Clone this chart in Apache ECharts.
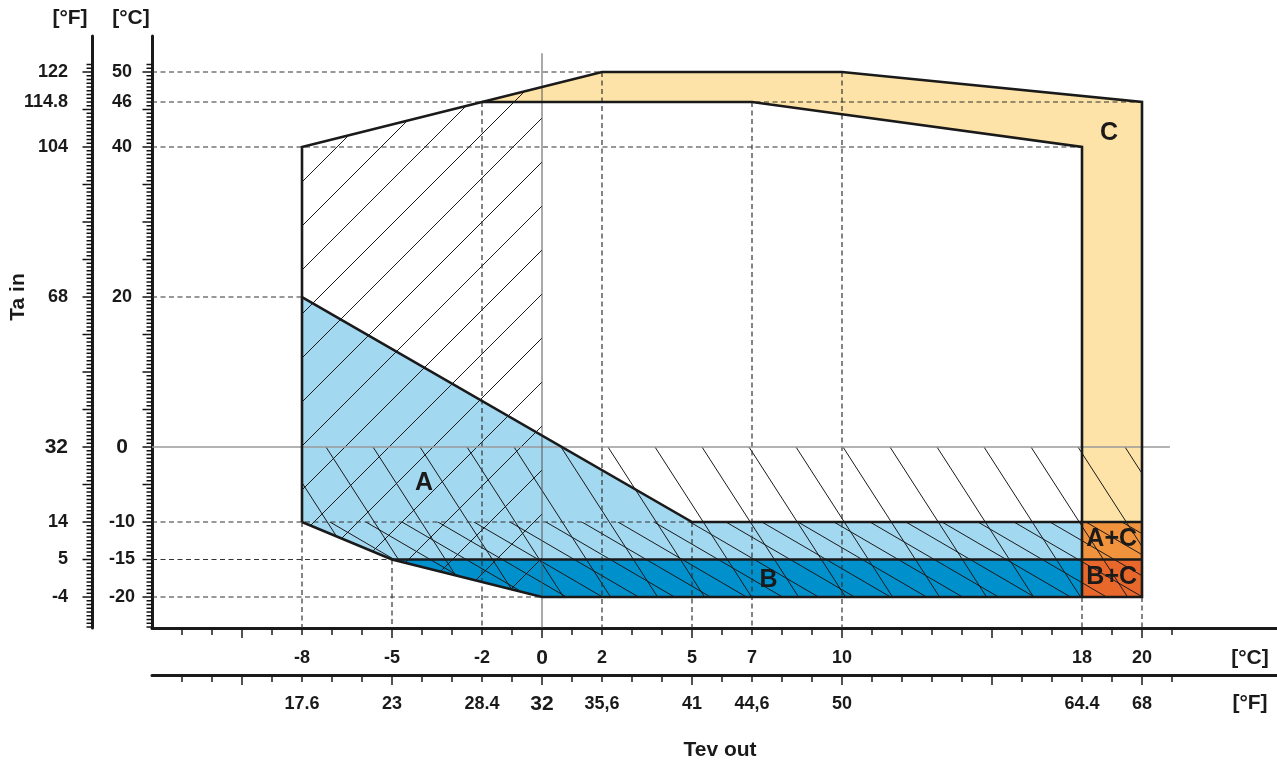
<!DOCTYPE html>
<html><head><meta charset="utf-8">
<script src="https://cdn.jsdelivr.net/npm/echarts@6/dist/echarts.min.js"></script>
<style>html,body{margin:0;padding:0;background:#fff}#c{width:1277px;height:765px}</style>
</head><body><div id="c"></div>
<script>
// ---------- data (°C) ----------
const X_MIN = -13, X_MAX = 24.5, Y_MIN = -24.13, Y_MAX = 54.8;
const envelope = [[-8,-10],[-8,40],[-2,46],[2,50],[10,50],[20,46],[20,-20],[0,-20],[-5,-15],[-8,-10]];
const innerC = [[-2,46],[7,46],[18,40],[18,-20]];
const boundaryA = [[-8,20],[5,-10],[20,-10]];
const boundaryB = [[-5,-15],[20,-15]];
const zoneA = [[-8,20],[5,-10],[18,-10],[18,-15],[-5,-15],[-8,-10]];
const zoneB = [[-5,-15],[18,-15],[18,-20],[0,-20]];
const zoneC = [[-2,46],[2,50],[10,50],[20,46],[20,-10],[18,-10],[18,40],[7,46]];
const zoneAC = [[18,-10],[20,-10],[20,-15],[18,-15]];
const zoneBC = [[18,-15],[20,-15],[20,-20],[18,-20]];
const hatchSlash = [[-8,-10],[-8,40],[-2,46],[0,48],[0,-20],[-5,-15]];
const hatchSteep = [[-8,0],[20,0],[20,-20],[0,-20],[-5,-15],[-8,-10]];
const hatchShallow = [[-8,-10],[20,-10],[20,-20],[0,-20],[-5,-15]];
// horizontal reference lines: [y, xFrom, xTo]
const refH = [[50,X_MIN,2],[46,X_MIN,20],[40,X_MIN,18],[20,X_MIN,-8],[-10,X_MIN,5],[-15,X_MIN,-5],[-20,X_MIN,0]];
// vertical reference lines: [x, yFrom] down to axis
const refV = [[-8,-10],[-5,-15],[-2,46],[2,50],[5,-10],[7,46],[10,50],[18,-20],[20,-20]];
const zeroH = [[X_MIN,0],[20.93,0]];
const zeroV = [[0,52.5],[0,Y_MIN]];
const xLabelsC = [-8,-5,-2,0,2,5,7,10,18,20];
const xLabelsF = ['17.6','23','28.4','32','35,6','41','44,6','50','64.4','68'];
const yLabelsC = [50,46,40,20,0,-10,-15,-20];
const yLabelsF = ['122','114.8','104','68','32','14','5','-4'];
const regionNames = ['A','B','C','A+C','B+C'];
const regionPos = [[-3.93,-4.8],[7.55,-17.8],[18.9,41.9],[18.99,-12.3],[18.99,-17.4]];

const xMinor = []; for (let v = -12; v <= 21; v++) xMinor.push(v);
const xMajor = [-10,-5,0,5,10,15,20];
const yTicks = []; for (let v = -24; v <= 51; v += 0.5) yTicks.push(v);

const INK = '#1a1a1a';
const FONT = 'Liberation Sans, Arial, sans-serif';

// ---------- hatch patterns ----------
function makePattern(w, h, segs) {
  const c = document.createElement('canvas'); c.width = w; c.height = h;
  const g = c.getContext('2d'); g.strokeStyle = INK; g.lineWidth = 1;
  segs.forEach(s => { g.beginPath(); g.moveTo(s[0], s[1]); g.lineTo(s[2], s[3]); g.stroke(); });
  return { image: c, repeat: 'repeat' };
}
const slashSegs = [0,44,88].map(c => [c + 3, -3, -3, c + 3]);
const steepSegs = [-2,-1,0,1].map(j => { const p = 38.2 + 47 * j; return [p - 5*47/73, -5, p + 78*47/73, 78]; });
const shallowSegs = [-2,-1,0,1].map(j => { const q = 11.1 + 36 * j; return [q - 5*36/21, -5, q + 26*36/21, 26]; });
const patSlash = makePattern(44, 44, slashSegs);
const patSteep = makePattern(47, 73, steepSegs);
const patShallow = makePattern(36, 21, shallowSegs);

// ---------- series builders ----------
function shapeSeries(items, z) {
  return {
    type: 'custom', z, silent: true, clip: false,
    data: items.map((it, i) => [it.pts[0][0], it.pts[0][1], i]),
    renderItem(params, api) {
      const it = items[params.dataIndex];
      const pts = it.pts.map(p => api.coord(p));
      return { type: it.type || 'polygon', shape: { points: pts }, style: it.style };
    }
  };
}
const fills = shapeSeries([
  { pts: zoneC, style: { fill: '#fde3a7' } },
  { pts: zoneA, style: { fill: '#a3d8f1' } },
  { pts: zoneB, style: { fill: '#0090cc' } },
  { pts: zoneAC, style: { fill: '#f0933c' } },
  { pts: zoneBC, style: { fill: '#e8682b' } }
], 1);
const hatches = shapeSeries([
  { pts: hatchSlash, style: { fill: patSlash } },
  { pts: hatchSteep, style: { fill: patSteep } },
  { pts: hatchShallow, style: { fill: patShallow } }
], 2);
const dashStyle = { stroke: '#333', lineWidth: 1.2, lineDash: [5, 3.5], fill: null };
const refs = shapeSeries(
  refH.map(r => ({ type: 'polyline', pts: [[r[1], r[0]], [r[2], r[0]]], style: dashStyle }))
  .concat(refV.map(r => ({ type: 'polyline', pts: [[r[0], r[1]], [r[0], Y_MIN]], style: dashStyle })))
  .concat([
    { type: 'polyline', pts: zeroH, style: { stroke: '#9a9a9a', lineWidth: 1.6, fill: null } },
    { type: 'polyline', pts: zeroV, style: { stroke: '#555', lineWidth: 1, fill: null } }
  ]), 3);
const thick = { stroke: INK, lineWidth: 2.6, fill: null, lineJoin: 'miter' };
const outlines = shapeSeries([
  { type: 'polyline', pts: envelope, style: thick },
  { type: 'polyline', pts: innerC, style: thick },
  { type: 'polyline', pts: boundaryA, style: thick },
  { type: 'polyline', pts: boundaryB, style: thick }
], 4);
const regionLabels = {
  type: 'custom', z: 5, silent: true, clip: false,
  data: regionPos.map((p, i) => [p[0], p[1], i]),
  renderItem(params, api) {
    const p = api.coord(regionPos[params.dataIndex]);
    return { type: 'text', x: p[0], y: p[1], style: {
      text: regionNames[params.dataIndex], fill: INK, fontSize: 25, fontWeight: 'bold',
      fontFamily: FONT, align: 'center', verticalAlign: 'middle' } };
  }
};
// ruler ticks of the two vertical axes (°C axis and °F axis 60px to the left)
const yTickSeries = {
  type: 'custom', z: 6, silent: true, clip: false,
  data: yTicks.map(v => [X_MIN, v]),
  renderItem(params, api) {
    const v = yTicks[params.dataIndex];
    const p = api.coord([X_MIN, v]);
    const len = (v % 5 === 0) ? 9.5 : 5.5;
    const st = { stroke: '#111', lineWidth: 1.5 };
    return { type: 'group', children: [0, 60].map(off => ({
      type: 'line', shape: { x1: p[0] - off - len, y1: p[1], x2: p[0] - off, y2: p[1] }, style: st })) };
  }
};

// ---------- axes ----------
const rich = {
  a: { fontSize: 18, fontWeight: 'bold', fontFamily: FONT, color: INK, lineHeight: 22 },
  b: { fontSize: 21, fontWeight: 'bold', fontFamily: FONT, color: INK, lineHeight: 22 }
};
const tickLine = { color: INK, width: 1.5 };
const axisLine = { show: true, onZero: false, lineStyle: { color: INK, width: 3 } };
const xBase = { type: 'value', min: X_MIN, max: X_MAX, position: 'bottom', splitLine: { show: false } };
const yBase = { type: 'value', min: Y_MIN, max: Y_MAX, position: 'left', splitLine: { show: false } };
const xAxis = [
  Object.assign({}, xBase, { offset: 0, axisLine,
    axisTick: { show: true, customValues: xMinor, length: 7, lineStyle: tickLine },
    axisLabel: { customValues: xLabelsC, margin: 19, rich,
      formatter: v => v === 0 ? '{b|0}' : '{a|' + v + '}' } }),
  Object.assign({}, xBase, { offset: 0, axisLine: { show: false, onZero: false },
    axisTick: { show: true, customValues: xMajor, length: 10, lineStyle: tickLine }, axisLabel: { show: false } }),
  Object.assign({}, xBase, { offset: 47, axisLine,
    axisTick: { show: true, customValues: xMinor, length: 7, lineStyle: tickLine },
    axisLabel: { customValues: xLabelsC, margin: 18, rich,
      formatter: v => { const s = xLabelsF[xLabelsC.indexOf(v)]; return s === '32' ? '{b|32}' : '{a|' + s + '}'; } } }),
  Object.assign({}, xBase, { offset: 47, axisLine: { show: false, onZero: false },
    axisTick: { show: true, customValues: xMajor, length: 10, lineStyle: tickLine }, axisLabel: { show: false } })
];
const yAxis = [
  Object.assign({}, yBase, { offset: 0, axisLine, axisTick: { show: false },
    axisLabel: { customValues: yLabelsC, margin: 30, align: 'center', rich,
      formatter: v => v === 0 ? '{b|0}' : '{a|' + v + '}' } }),
  Object.assign({}, yBase, { offset: 60, axisLine, axisTick: { show: false },
    axisLabel: { customValues: yLabelsC, margin: 24, rich,
      formatter: v => { const s = yLabelsF[yLabelsC.indexOf(v)]; return s === '32' ? '{b|32}' : '{a|' + s + '}'; } } })
];

function txt(text, x, y, size, rot) {
  return { type: 'text', x, y, rotation: rot || 0, z: 10, silent: true,
    style: { text, fill: INK, fontSize: size, fontWeight: 'bold', fontFamily: FONT, align: 'center', verticalAlign: 'middle' } };
}

const chart = echarts.init(document.getElementById('c'), null, { renderer: 'canvas' });
chart.setOption({
  backgroundColor: '#fff',
  animation: false,
  grid: { left: 152, right: 0, top: 36, bottom: 137, containLabel: false, outerBoundsMode: 'none' },
  xAxis, yAxis,
  series: [fills, hatches, refs, outlines, regionLabels, yTickSeries],
  graphic: [
    txt('[°F]', 70, 18, 21), txt('[°C]', 131, 18, 21),
    txt('Ta in', 18, 297, 21, Math.PI / 2),
    txt('Tev out', 720, 750, 21),
    txt('[°C]', 1250, 658, 21), txt('[°F]', 1250, 703, 21)
  ]
});
</script></body></html>
